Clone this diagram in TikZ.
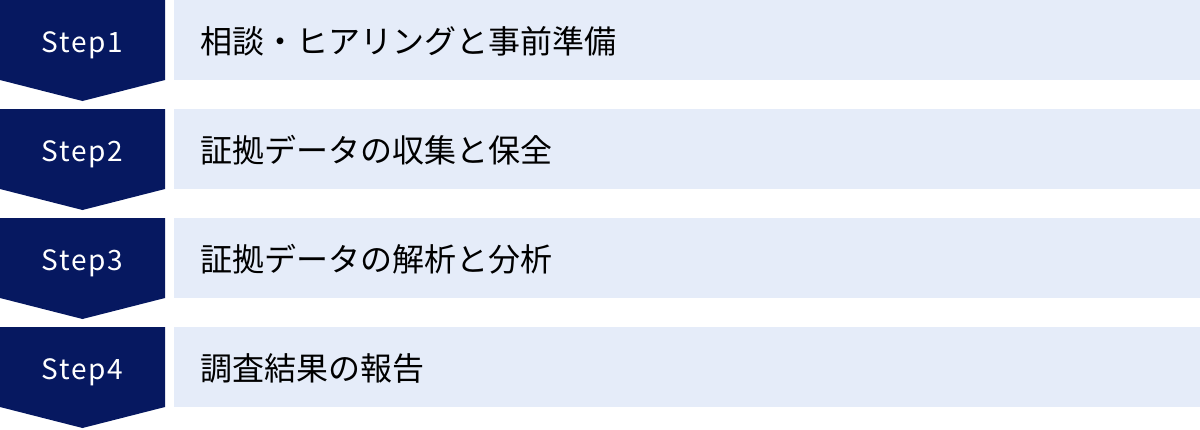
\documentclass[tikz,border=0pt]{standalone}
\usepackage{fontspec}
\usepackage{tikz}
\usetikzlibrary{positioning}
\newfontfamily\jpfont{Noto Sans CJK JP}
\newfontfamily\stepfont[LetterSpace=6]{Noto Sans CJK JP}
\definecolor{stepnavy}{HTML}{061860}
\definecolor{tasklight}{HTML}{E5ECF9}

\begin{document}
\begin{tikzpicture}[x=1pt,y=-1pt]
	\tikzset{
		chevron/.style={fill=stepnavy},
		steplabel/.style={text=white, inner sep=0pt, anchor=base, font=\stepfont\fontsize{28}{34}\selectfont},
		taskbox/.style={fill=tasklight, minimum width=1026pt, minimum height=80pt, inner sep=0pt, anchor=north west},
		tasklabel/.style={text=black, inner sep=0pt, anchor=west, font=\jpfont\fontsize{32}{36}\selectfont}
	}
	\useasboundingbox (0,0) rectangle (1200,429);
	
	% step chevrons
	\fill[chevron] (0,0)   -- (165,0)   -- (165,80)  -- (82.5,101) -- (0,80)  -- cycle;
	\fill[chevron] (0,109) -- (165,109) -- (165,189) -- (82.5,210) -- (0,189) -- cycle;
	\fill[chevron] (0,218) -- (165,218) -- (165,298) -- (82.5,319) -- (0,298) -- cycle;
	\fill[chevron] (0,327) -- (165,327) -- (165,407) -- (82.5,428) -- (0,407) -- cycle;
	
	\node[steplabel] (s1) at (82.5,52.5)  {Step1};
	\node[steplabel] (s2) at (82.5,161.5) {Step2};
	\node[steplabel] (s3) at (82.5,270.5) {Step3};
	\node[steplabel] (s4) at (82.5,379.5) {Step4};
	
	% task boxes
	\node[taskbox] (b1) at (174,0)   {};
	\node[taskbox] (b2) at (174,109) {};
	\node[taskbox] (b3) at (174,218) {};
	\node[taskbox] (b4) at (174,327) {};
	
	\node[tasklabel] (t1) at (200,41)  {相談・ヒアリングと事前準備};
	\node[tasklabel] (t2) at (200,150) {証拠データの収集と保全};
	\node[tasklabel] (t3) at (200,259) {証拠データの解析と分析};
	\node[tasklabel] (t4) at (200,368) {調査結果の報告};
\end{tikzpicture}
\end{document}
